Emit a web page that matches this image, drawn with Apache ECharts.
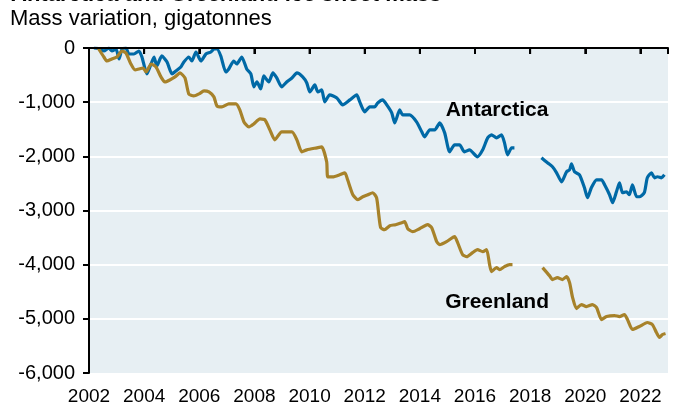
<html lang="en">
<head>
    <meta charset="UTF-8">
    <title>Antarctica and Greenland ice sheet mass</title>
    <script src="https://cdn.jsdelivr.net/npm/echarts@6/dist/echarts.min.js"></script>
    <style>
        body { margin: 0; background: #fff; }
        #ice { width: 673px; height: 410px; }
    </style>
</head>
<body>
<div id="ice"></div>
<script type="text/javascript">
    // 数据（从图上读出，单位 Gt）
    var antYears = [2002.18, 2002.43, 2002.54, 2002.72, 2002.83, 2002.98, 2003.09, 2003.20, 2003.34, 2003.45,
        2003.63, 2003.81, 2003.92, 2004.10, 2004.25, 2004.36, 2004.46, 2004.64, 2004.83, 2005.01,
        2005.15, 2005.33, 2005.44, 2005.62, 2005.73, 2005.88, 2006.06, 2006.24, 2006.42, 2006.53,
        2006.64, 2006.78, 2006.96, 2007.07, 2007.25, 2007.36, 2007.54, 2007.72, 2007.87, 2007.98,
        2008.09, 2008.23, 2008.34, 2008.52, 2008.67, 2008.81, 2008.99, 2009.17, 2009.36, 2009.54,
        2009.75, 2009.90, 2010.01, 2010.19, 2010.30, 2010.44, 2010.55, 2010.73, 2010.99, 2011.20,
        2011.46, 2011.71, 2011.82, 2012.00, 2012.18, 2012.36, 2012.47, 2012.65, 2012.80, 2012.98,
        2013.09, 2013.27, 2013.38, 2013.63, 2013.88, 2014.07, 2014.17, 2014.36, 2014.54, 2014.72,
        2014.90, 2015.08, 2015.26, 2015.44, 2015.62, 2015.80, 2016.09, 2016.28, 2016.46, 2016.60,
        2016.78, 2016.96, 2017.07, 2017.18, 2017.33, 2017.43,
        2017.90,
        2018.41, 2018.63, 2018.81, 2018.96, 2019.14, 2019.32, 2019.43, 2019.50, 2019.61, 2019.79,
        2019.97, 2020.08, 2020.22, 2020.41, 2020.59, 2020.70, 2020.88, 2020.99, 2021.13, 2021.24,
        2021.35, 2021.49, 2021.60, 2021.71, 2021.86, 2021.96, 2022.14, 2022.25, 2022.40, 2022.51,
        2022.62, 2022.76, 2022.87];
    var antMass = [0, -18, -55, 0, -55, -18, -203, -18, 0, -111,
        -111, -55, -166, -479, -295, -166, -332, -147, -258, -479,
        -424, -350, -258, -166, -240, -74, -240, -111, -74, -18,
        -18, -147, -442, -387, -240, -295, -166, -387, -479, -719,
        -627, -756, -516, -627, -461, -553, -719, -627, -553, -461,
        -534, -645, -811, -682, -811, -774, -995, -866, -922, -1050,
        -958, -866, -995, -1180, -1087, -1087, -1014, -958, -1050, -1198,
        -1382, -1143, -1235, -1235, -1364, -1548, -1640, -1511, -1511, -1382,
        -1567, -1917, -1788, -1788, -1917, -1880, -2009, -1880, -1659, -1603,
        -1659, -1603, -1751, -1972, -1843, -1843,
        null,
        -2027, -2119, -2193, -2304, -2470, -2285, -2248, -2138, -2285, -2341,
        -2580, -2764, -2580, -2433, -2433, -2525, -2709, -2857, -2654, -2488,
        -2672, -2654, -2709, -2525, -2746, -2746, -2672, -2396, -2304, -2396,
        -2377, -2396, -2341];

    var grnYears = [2002.33, 2002.54, 2002.65, 2002.83, 2003.01, 2003.20, 2003.34, 2003.52, 2003.67, 2003.81,
        2003.96, 2004.07, 2004.25, 2004.43, 2004.61, 2004.75, 2004.93, 2005.12, 2005.30, 2005.48,
        2005.62, 2005.80, 2005.99, 2006.17, 2006.35, 2006.53, 2006.64, 2006.82, 2007.07, 2007.33,
        2007.47, 2007.62, 2007.80, 2007.98, 2008.20, 2008.38, 2008.56, 2008.74, 2008.99, 2009.36,
        2009.54, 2009.72, 2009.90, 2010.26, 2010.44, 2010.62, 2010.66, 2010.84, 2011.09, 2011.28,
        2011.38, 2011.57, 2011.75, 2011.93, 2012.11, 2012.29, 2012.43, 2012.51, 2012.58, 2012.72,
        2012.91, 2013.12, 2013.34, 2013.45, 2013.56, 2013.74, 2013.99, 2014.28, 2014.43, 2014.61,
        2014.72, 2014.97, 2015.26, 2015.37, 2015.55, 2015.70, 2015.91, 2016.09, 2016.28, 2016.42,
        2016.53, 2016.60, 2016.78, 2016.89, 2017.07, 2017.25, 2017.36,
        2017.90,
        2018.45, 2018.70, 2018.81, 2018.99, 2019.17, 2019.32, 2019.43, 2019.54, 2019.68, 2019.86,
        2020.04, 2020.26, 2020.41, 2020.59, 2020.77, 2021.06, 2021.24, 2021.42, 2021.53, 2021.71,
        2021.96, 2022.25, 2022.43, 2022.58, 2022.69, 2022.80, 2022.91];
    var grnMass = [0, -166, -240, -203, -166, -55, -92, -295, -405, -387,
        -369, -442, -295, -350, -534, -627, -590, -534, -461, -553,
        -848, -885, -848, -793, -811, -903, -1069, -1087, -1032, -1032,
        -1143, -1364, -1456, -1401, -1309, -1327, -1511, -1696, -1548, -1548,
        -1696, -1917, -1880, -1843, -1825, -2101, -2378, -2378, -2341, -2304,
        -2433, -2709, -2801, -2746, -2709, -2672, -2764, -3078, -3317, -3354,
        -3281, -3262, -3225, -3207, -3336, -3391, -3336, -3262, -3317, -3575,
        -3631, -3575, -3483, -3594, -3815, -3852, -3778, -3723, -3760, -3723,
        -3999, -4128, -4054, -4091, -4036, -3999, -3999,
        null,
        -4054, -4202, -4276, -4239, -4276, -4220, -4331, -4608, -4810, -4736,
        -4773, -4736, -4792, -5013, -4958, -4939, -4958, -4921, -5013, -5197,
        -5142, -5068, -5105, -5252, -5344, -5289, -5270];

    var yearMin = 2002, yearMax = 2023;
    var yearTicks = [2002, 2004, 2006, 2008, 2010, 2012, 2014, 2016, 2018, 2020, 2022];

    var FONT = 'Liberation Sans, Arial, sans-serif';

    function pairs(xs, ys) {
        var out = [];
        for (var i = 0; i < xs.length; i++) {
            out.push([xs[i], ys[i]]);
        }
        return out;
    }

    function nameLabel(text, coord) {
        return {
            data: [{coord: coord, value: text}],
            symbol: 'circle',
            symbolSize: 1,
            itemStyle: {color: 'transparent'},
            label: {
                show: true, position: 'inside', formatter: text,
                color: '#000', fontSize: 21, fontWeight: 'bold', fontFamily: FONT
            },
            silent: true
        };
    }

    var titles = [
        {
            type: 'text', id: 'title', x: 11, y: 6,
            style: {
                text: 'Antarctica and Greenland ice sheet mass', fill: '#000',
                font: 'bold 22px ' + FONT, verticalAlign: 'bottom'
            }
        },
        {
            type: 'text', id: 'sub', x: 10, y: 8,
            style: {
                text: 'Mass variation, gigatonnes', fill: '#000',
                font: '22px ' + FONT, verticalAlign: 'top'
            }
        }
    ];

    var myChart = echarts.init(document.getElementById('ice'));

    var option = {
        animation: false,
        graphic: titles,
        grid: {
            left: 89, right: 5, top: 48, bottom: 37,
            show: true, backgroundColor: '#e7eff3', borderWidth: 0
        },
        xAxis: [
            {
                type: 'value', min: yearMin, max: yearMax, interval: 2, position: 'bottom',
                axisLine: {show: false},
                axisTick: {show: false},
                splitLine: {show: false},
                axisLabel: {
                    formatter: function (v) { return v === yearMax ? '' : String(v); },
                    color: '#000', fontSize: 19, fontFamily: FONT, margin: 14
                }
            },
            {
                type: 'value', min: yearMin, max: yearMax, interval: 2, position: 'top',
                axisLine: {show: true, onZero: false, lineStyle: {color: '#000', width: 2}},
                axisTick: {show: true, inside: true, length: 6,
                    lineStyle: {color: '#000', width: 2}},
                axisLabel: {show: false},
                splitLine: {show: false}
            }
        ],
        yAxis: {
            type: 'value', min: -6000, max: 0, interval: 1000,
            axisLine: {show: true, lineStyle: {color: '#000', width: 2}},
            axisTick: {show: true, length: 6, lineStyle: {color: '#000', width: 2}},
            axisLabel: {
                color: '#000', fontSize: 20, fontFamily: FONT, margin: 14,
                formatter: function (v) { return v.toLocaleString('en-US'); }
            },
            splitLine: {showMaxLine: false, showMinLine: false, lineStyle: {color: '#ffffff', width: 2}}
        },
        series: [
            {
                name: 'Antarctica', type: 'line', xAxisIndex: 0,
                data: pairs(antYears, antMass),
                showSymbol: false, symbol: 'none', connectNulls: false, smooth: 0.2,
                lineStyle: {color: '#0069a6', width: 3.2},
                markPoint: nameLabel('Antarctica', [2016.8, -1140])
            },
            {
                name: 'Greenland', type: 'line', xAxisIndex: 1,
                data: pairs(grnYears, grnMass),
                showSymbol: false, symbol: 'none', connectNulls: false, smooth: 0.2,
                lineStyle: {color: '#a7822a', width: 3.2},
                markPoint: nameLabel('Greenland', [2016.8, -4700])
            }
        ]
    };

    myChart.setOption(option);

    // 顶部零线和刻度：用图表自己的坐标换算成像素再画，放在最上层
    var topLeft = myChart.convertToPixel({gridIndex: 0}, [yearMin, 0]);
    var topRight = myChart.convertToPixel({gridIndex: 0}, [yearMax, 0]);
    var extra = titles.slice();
    extra.push({
        type: 'line', id: 'zero-line', z: 100, silent: true,
        shape: {x1: topLeft[0] - 1, y1: topLeft[1], x2: topRight[0], y2: topRight[1]},
        style: {stroke: '#000', lineWidth: 2}
    });
    yearTicks.forEach(function (yr) {
        var p = myChart.convertToPixel({gridIndex: 0}, [yr, 0]);
        extra.push({
            type: 'line', id: 'tick-' + yr, z: 100, silent: true,
            shape: {x1: p[0], y1: p[1], x2: p[0], y2: p[1] + 6},
            style: {stroke: '#000', lineWidth: 2}
        });
    });
    myChart.setOption({graphic: extra});
</script>
</body>
</html>
